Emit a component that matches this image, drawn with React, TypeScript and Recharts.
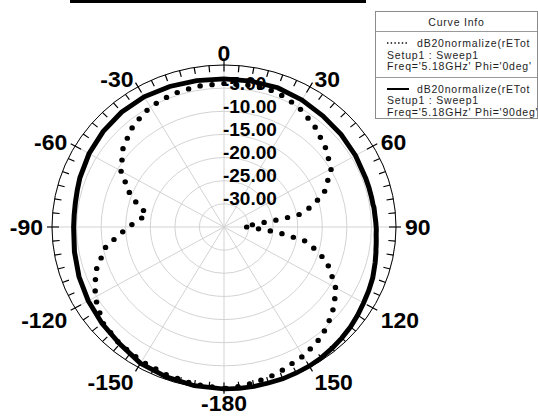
import React from 'react';
import { RadarChart, Radar, PolarGrid, PolarAngleAxis, PolarRadiusAxis } from 'recharts';

// measured angles (deg) and normalized gain (dB) for both cuts
const ANGLES = [
  -180, -170, -160, -150, -140, -130, -120, -110, -100, -90, -85, -80, -75, -70, -60, -50, -40, -30, -20, -10,
  0, 10, 20, 30, 40, 50, 60, 70, 74, 78, 80, 81, 82, 83, 85, 88, 91, 93, 95, 97, 99, 100, 104, 108, 110, 115,
  120, 125, 130, 135, 140, 145, 150, 155, 160, 165, 170, 175,
];
const PHI0_DB = [
  -0.1, -0.5, -1.0, -1.5, -2.0, -2.8, -4.7, -7.2, -10.6, -15.5, -17.6, -19.1, -17.0, -14.7, -10.8, -8.2, -6.3, -5.0, -4.4, -4.1,
  -4.0, -3.9, -3.9, -4.9, -6.4, -8.1, -9.8, -13.3, -15.6, -17.9, -19.5, -22.0, -24.2, -26.7, -29.0, -31.0, -30.0, -28.2, -25.7, -23.1, -20.6, -18.5, -16.2, -13.9, -12.7, -10.9,
  -8.8, -7.5, -6.2, -5.2, -4.1, -3.5, -2.8, -2.4, -1.7, -1.2, -0.8, -0.4,
];
const PHI90_DB = [
  0, -0.2, -0.55, -1.0, -2.0, -2.6, -3.1, -3.6, -4.1, -4.4, -4.4, -4.3, -4.1, -3.8, -3.3, -2.9, -2.6, -2.5, -2.7, -2.9,
  -3.0, -3.0, -3.0, -3.3, -3.7, -3.9, -4.1, -4.3, -4.3, -4.3, -4.3, -4.3, -4.2, -4.2, -4.2, -4.1, -4.0, -4.0, -3.9, -3.8, -3.7, -3.6, -3.3, -3.0, -2.8, -2.5,
  -2.2, -1.8, -1.4, -1.1, -0.8, -0.5, -0.3, -0.2, -0.1, -0.1, 0, 0,
];

const RADIUS_TICKS = [-35, -30, -25, -20, -15, -10, -5, 0];
const MAJOR_ANGLES = [-180, -150, -120, -90, -60, -30, 0, 30, 60, 90, 120, 150];
const ANGLE_TICKS = Array.from({ length: 73 }, (_, i) => -180 + i * 5);

const LEGEND_TITLE = 'Curve Info';
const LEGEND_ITEMS = [
  { dotted: true, lines: ['dB20normalize(rETot', 'Setup1 : Sweep1', "Freq='5.18GHz' Phi='0deg'"] },
  { dotted: false, lines: ['dB20normalize(rETot', 'Setup1 : Sweep1', "Freq='5.18GHz' Phi='90deg'"] },
];

const data = ANGLES.map((angle, i) => ({ angle, phi0: PHI0_DB[i], phi90: PHI90_DB[i] }));

// the exported plot is slightly squashed vertically
const SY = 162 / 172;
const W = 538;
const H = Math.round(416 / SY);
const CX = 224;
const CY = 227 / SY;
const R = 172;
const START = 270;
const END = -90;
const FONT = '"Liberation Sans", Arial, Helvetica, sans-serif';
const toPolar = (v: number) => START + ((v + 180) / 360) * (END - START);
const GRID_ANGLES = MAJOR_ANGLES.map(toPolar);

const AngleTick = (props: any) => {
  const { payload } = props;
  const value = Number(payload.value);
  const a = payload.coordinate != null ? payload.coordinate : toPolar(value);
  const rad = (-a * Math.PI) / 180;
  const ux = Math.cos(rad);
  const uy = Math.sin(rad);
  const major = value % 30 === 0;
  const at = (r: number) => ({ x: CX + r * ux, y: CY + r * uy });
  const p1 = at(major ? R + 5 : R);
  const p2 = at(R - 7);
  const fs = 23;
  let label = null;
  if (major && value !== 180) {
    const an = at(R + 9);
    const anchor = ux > 0.1 ? 'start' : ux < -0.1 ? 'end' : 'middle';
    let baseline;
    if (uy > 0.9) baseline = an.y - 2 + 0.716 * fs;
    else if (uy > 0.1) baseline = an.y + 0.716 * fs;
    else if (uy < -0.9) baseline = an.y - 4 + 0.358 * fs;
    else baseline = an.y + 0.358 * fs;
    label = (
      <text x={an.x} y={baseline} textAnchor={anchor} fontFamily={FONT} fontSize={fs} fontWeight="bold" fill="#000">
        {value}
      </text>
    );
  }
  return (
    <g>
      <path d={`M${p1.x},${p1.y}L${p2.x},${p2.y}`} stroke="#000" strokeWidth={1.2} fill="none" />
      {label}
    </g>
  );
};

const RadiusTick = (props: any) => {
  const { x, y, payload } = props;
  const v = Number(payload.value);
  if (v === -35 || v === 0) return <g />;
  return (
    <text x={x - 1} y={y + 1.6} textAnchor="start" fontFamily={FONT} fontSize={19} fontWeight="bold" fill="#000">
      {v.toFixed(2)}
    </text>
  );
};

const Legend = () => (
  <div
    style={{
      position: 'absolute',
      left: 375,
      top: 11,
      width: 161,
      height: 106,
      border: '1px solid #8c8c8c',
      background: '#fff',
      fontFamily: FONT,
      fontSize: 10.5,
      letterSpacing: 0.8,
      color: '#1e1e1e',
    }}
  >
    <div style={{ position: 'absolute', left: 0, right: 0, top: 4, textAlign: 'center', lineHeight: '12px' }}>
      {LEGEND_TITLE}
    </div>
    {LEGEND_ITEMS.map((item, k) => (
      <div key={k} style={{ position: 'absolute', left: 0, right: 0, top: 19 + k * 45.5, height: 45.5, borderTop: '1px solid #9a9a9a' }}>
        <svg style={{ position: 'absolute', left: 10, top: 9 }} width={24} height={4}>
          <line
            x1={1}
            y1={2}
            x2={23}
            y2={2}
            stroke="#000"
            strokeWidth={item.dotted ? 1.4 : 2}
            strokeDasharray={item.dotted ? '1.4 2.3' : undefined}
          />
        </svg>
        {item.lines.map((t, j) => (
          <div
            key={j}
            style={{
              position: 'absolute',
              left: j === 0 ? 41 : 11,
              top: 5 + j * 11.5,
              lineHeight: '12px',
              whiteSpace: 'nowrap',
            }}
          >
            {t}
          </div>
        ))}
      </div>
    ))}
  </div>
);

export default function App() {
  return (
    <div style={{ position: 'fixed', left: 0, top: 0, width: 538, height: 416, overflow: 'hidden', background: '#fff' }}>
      <div style={{ position: 'absolute', left: 70, top: 0, width: 296, height: 3, background: '#000' }} />
      <div style={{ position: 'absolute', left: 0, top: 0, width: W, height: H, transform: `scaleY(${SY})`, transformOrigin: '0 0' }}>
        <RadarChart
          width={W}
          height={H}
          data={data}
          cx={CX}
          cy={CY}
          innerRadius={0}
          outerRadius={R}
          startAngle={START}
          endAngle={END}
          margin={{ top: 0, right: 0, bottom: 0, left: 0 }}
        >
          <PolarGrid gridType="circle" polarAngles={GRID_ANGLES} stroke="#d2d2d2" strokeWidth={1} />
          <PolarAngleAxis
            dataKey="angle"
            type="number"
            domain={[-180, 180]}
            ticks={ANGLE_TICKS as any}
            tickCount={ANGLE_TICKS.length}
            axisLineType="circle"
            axisLine={{ stroke: '#000', strokeWidth: 1 }}
            tickLine={false}
            tick={AngleTick}
          />
          <PolarRadiusAxis
            angle={90}
            type="number"
            domain={[-35, 0]}
            ticks={RADIUS_TICKS as any}
            tickCount={RADIUS_TICKS.length}
            axisLine={false}
            tickLine={false}
            tick={RadiusTick}
          />
          <Radar
            dataKey="phi90"
            stroke="#000"
            strokeWidth={5}
            fill="none"
            fillOpacity={0}
            dot={false}
            isAnimationActive={false}
          />
          <Radar
            dataKey="phi0"
            stroke="#000"
            strokeWidth={5.5}
            strokeDasharray="0 12"
            strokeLinecap="round"
            fill="none"
            fillOpacity={0}
            dot={false}
            isAnimationActive={false}
          />
        </RadarChart>
      </div>
      <Legend />
    </div>
  );
}
